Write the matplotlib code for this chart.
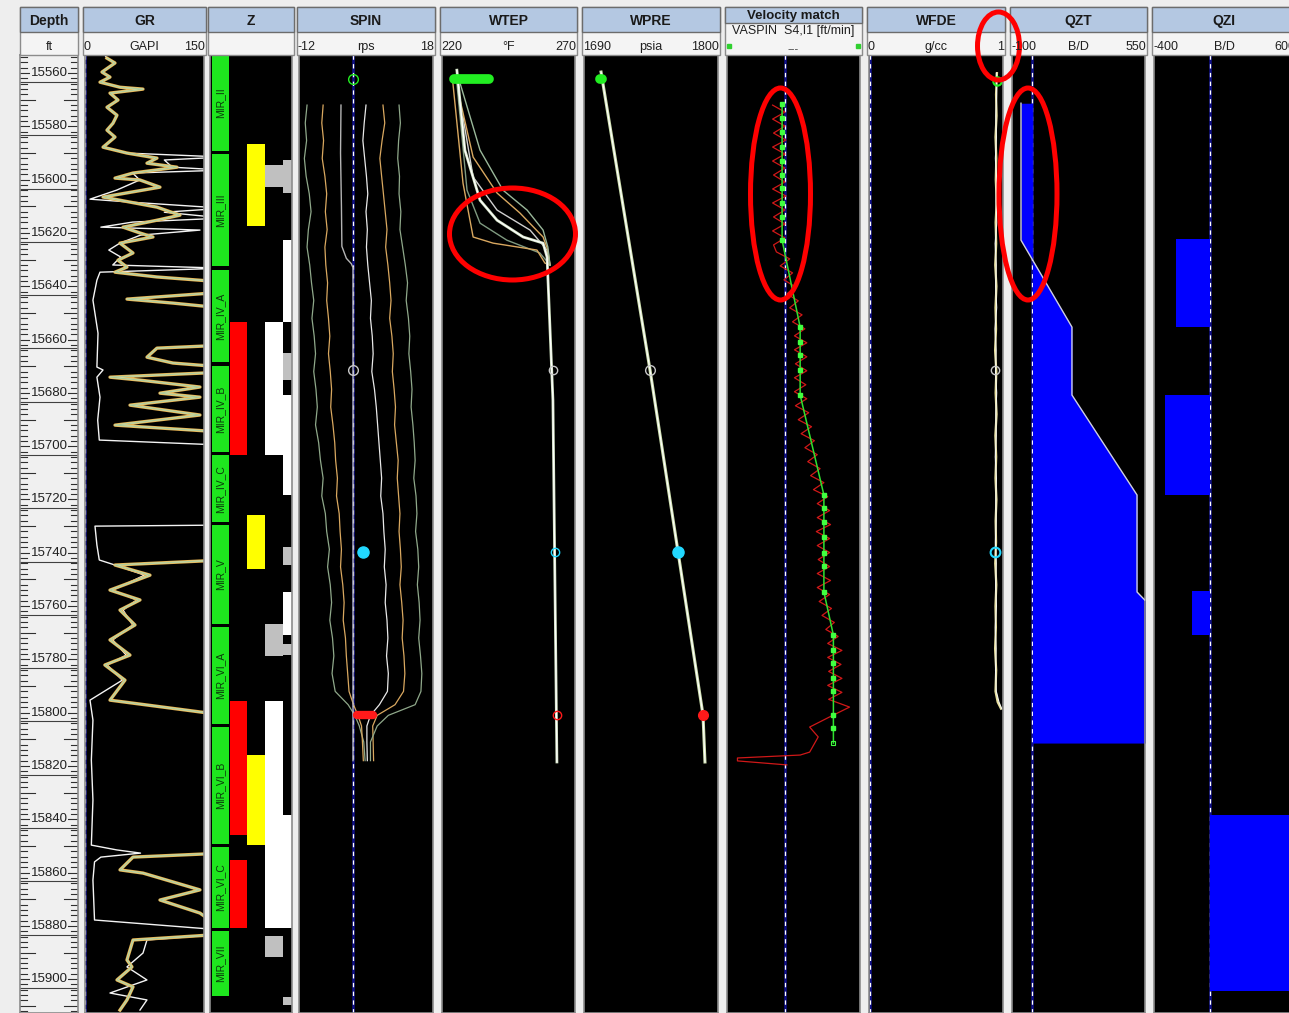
import numpy as np
import matplotlib.pyplot as plt
from matplotlib.patches import Rectangle, Ellipse

plt.rcParams['font.family'] = ['Liberation Sans', 'DejaVu Sans']

W, H = 1289, 1013
TOP, BASE = 15553.2, 15912.7

# ---------------- track layout ----------------
track_title = ['Depth', 'GR', 'Z', 'SPIN', 'WTEP', 'WPRE', 'Velocity match', 'WFDE', 'QZT', 'QZI']
track_unit = ['ft', 'GAPI', '', 'rps', '°F', 'psia', '---', 'g/cc', 'B/D', 'B/D']
scale_lo = ['', '0', '', '-12', '220', '1690', '', '0', '-100', '-400']
scale_hi = ['', '150', '', '18', '270', '1800', '', '1', '550', '600']
track_left = [20, 85, 210, 299, 442, 584, 727, 869, 1012, 1154]
track_right = [78, 204, 292, 433, 575, 718, 860, 1003, 1145, 1294]

depth_labels = np.arange(15560, 15901, 20)

# ---------------- GR ----------------
gr_depth = [15554.4, 15556.2, 15559.6, 15561.5, 15563.4, 15565.3, 15566.0, 15567.5, 15570.1, 15572.8,
            15575.8, 15578.8, 15581.4, 15584.0, 15587.8, 15590.0, 15591.9, 15593.8, 15595.3, 15597.5,
            15599.4, 15600.1, 15602.8, 15606.5, 15608.4, 15610.3, 15613.3, 15615.2, 15617.8, 15620.0,
            15621.5, 15623.8, 15627.5, 15630.2, 15632.8, 15634.7, 15636.5, 15638.4, 15642.2, 15644.8,
            15646.3, 15648.2, 15662.1, 15663.2, 15666.6, 15668.8, 15670.3, 15672.2, 15674.1, 15675.2,
            15677.8, 15680.1, 15681.6, 15684.6, 15688.3, 15692.1, 15694.7, 15742.7, 15744.6, 15748.4,
            15754.0, 15757.7, 15761.5, 15767.1, 15772.7, 15778.4, 15782.1, 15787.8, 15795.3, 15800.9,
            15852.7, 15854.2, 15859.0, 15860.2, 15866.5, 15870.3, 15875.2, 15881.6, 15883.1, 15885.3,
            15892.8, 15895.4, 15900.3, 15902.9, 15907.8, 15911.6]
gr_api = [27.7, 37.8, 21.4, 31.5, 18.9, 44.1, 73.1, 31.5, 41.6, 27.7,
          40.3, 35.3, 27.7, 37.8, 22.7, 52.9, 90.7, 78.1, 115.9, 60.5,
          37.8, 69.3, 94.5, 22.7, 56.7, 90.7, 119.7, 90.7, 47.9, 69.3,
          85.7, 44.1, 60.5, 41.6, 52.9, 37.8, 90.7, 175, 175, 52.9,
          110.9, 175, 175, 90.7, 78.1, 110.9, 175, 175, 31.5, 69.3,
          144.9, 94.5, 144.9, 56.7, 144.9, 37.8, 175, 175, 37.8, 81.9,
          31.5, 69.3, 44.1, 63.0, 31.5, 56.7, 25.0, 50.4, 31.5, 175,
          175, 60.5, 44.1, 73.1, 144.9, 94.5, 144.9, 175, 175, 60.5,
          52.9, 59.2, 40.3, 60.5, 52.9, 44.1]

gr2_depth = [15553.2, 15554.4, 15556.2, 15559.6, 15561.5, 15563.4, 15565.3, 15566.0, 15567.5, 15570.1,
             15572.8, 15575.8, 15578.8, 15581.4, 15584.0, 15587.8, 15590.0, 15591.5, 15592.6, 15595.3,
             15596.4, 15597.5, 15600.1, 15603.9, 15607.3, 15608.4, 15610.7, 15612.2, 15614.4, 15615.9,
             15617.8, 15618.9, 15620.8, 15623.8, 15626.4, 15629.0, 15632.0, 15633.2, 15634.7, 15637.7,
             15645.2, 15657.6, 15670.3, 15671.4, 15674.1, 15681.6, 15690.2, 15697.7, 15699.6, 15729.6,
             15730.0, 15737.1, 15742.7, 15744.6, 15748.4, 15754.0, 15757.7, 15761.5, 15767.1, 15772.7,
             15778.4, 15782.1, 15787.8, 15795.3, 15802.8, 15817.8, 15832.8, 15849.7, 15851.5, 15852.7,
             15854.2, 15856.0, 15862.8, 15877.8, 15881.6, 15883.1, 15885.3, 15890.2, 15895.4, 15900.3,
             15905.2, 15907.8, 15911.6]
gr2_api = [25, 27.7, 37.8, 21.4, 31.5, 18.9, 44.1, 73.1, 31.5, 41.6,
           27.7, 40.3, 35.3, 27.7, 37.8, 22.7, 52.9, 175, 100, 110,
           175, 60, 69, 40, 6.3, 56.7, 175, 100, 175, 60,
           20, 145, 70, 44, 30, 45, 35, 175, 18.9, 15,
           10, 16.4, 15, 22.7, 15, 18.9, 16, 18, 175, 175,
           12.6, 15, 18, 37.8, 75, 35, 65, 48, 60, 35,
           52, 28, 47, 6.3, 10, 8, 10, 8, 40, 70,
           20, 12, 10, 12, 175, 175, 78.1, 73.1, 52.9, 78.1,
           31.5, 78.1, 69.3]

# ---------------- zonation / flags ----------------
zone_name = ['MIR_II', 'MIR_III', 'MIR_IV_A', 'MIR_IV_B', 'MIR_IV_C',
             'MIR_V', 'MIR_VI_A', 'MIR_VI_B', 'MIR_VI_C', 'MIR_VII']
zone_top = [15553.2, 15590.4, 15633.9, 15669.9, 15703.3, 15729.6, 15767.9, 15805.4, 15850.4, 15881.9]
zone_base = [15589.3, 15632.4, 15668.4, 15702.2, 15728.5, 15766.7, 15804.3, 15849.3, 15880.8, 15906.3]

red_top = [15653.4, 15795.6, 15855.3]
red_base = [15703.3, 15845.9, 15880.8]
yellow_top = [15586.6, 15725.8, 15815.9]
yellow_base = [15617.4, 15746.1, 15849.7]
white_top = [15653.4, 15795.6]
white_base = [15703.3, 15880.8]
gray_top = [15594.5, 15766.7, 15883.8]
gray_base = [15602.8, 15778.7, 15891.7]
edge_white_top = [15622.7, 15680.8, 15754.7, 15838.4]
edge_white_base = [15653.4, 15718.3, 15770.9, 15880.8]
edge_gray_top = [15592.6, 15665.1, 15737.8, 15774.2, 15906.7]
edge_gray_base = [15605.0, 15675.2, 15744.6, 15778.4, 15909.7]

# ---------------- stations ----------------
station_depth = [15562.3, 15671.4, 15739.7, 15800.9]
station_color = ['#22ee22', '#c8c8c8', '#22d8ff', '#ff1a1a']

# ---------------- SPIN passes ----------------
spin_depth = [15572, 15578.7, 15585.3, 15592, 15598.7, 15605.3, 15612, 15618.7, 15625.3, 15632,
              15638.7, 15645.3, 15652, 15658.7, 15665.3, 15672, 15678.7, 15685.3, 15692, 15698.7,
              15705.3, 15712, 15718.7, 15725.3, 15732, 15738.7, 15745.3, 15752, 15758.7, 15765.3,
              15772, 15778.7, 15785.3, 15792]
spin_a = [-10.2, -10.6, -10.3, -10.8, -10.4, -9.7, -9.3, -9.9, -10.2, -9.6,
          -9.2, -8.7, -9.1, -8.6, -8.3, -8.7, -8.2, -7.9, -8.3, -7.6,
          -7.2, -6.6, -6.9, -6.1, -5.8, -5.2, -5.6, -5.0, -4.7, -5.1,
          -4.5, -4.2, -4.6, -3.9]
spin_b = [-6.6, -6.9, -6.5, -6.8, -6.2, -5.8, -6.1, -5.7, -6.2, -6.0,
          -5.6, -5.8, -5.4, -5.1, -5.4, -5.0, -4.7, -4.9, -4.4, -4.0,
          -3.8, -3.4, -3.6, -3.0, -2.8, -2.5, -2.7, -2.2, -1.9, -2.1,
          -1.6, -1.4, -1.1, -0.8]
spin_d = [3.0, 2.6, 2.3, 2.7, 3.1, 3.4, 3.0, 3.3, 3.1, 3.4,
          3.8, 4.2, 4.0, 4.4, 4.6, 4.3, 4.9, 5.3, 5.6, 5.9,
          6.2, 6.5, 6.3, 6.8, 7.0, 7.3, 7.1, 7.5, 7.3, 7.7,
          7.9, 7.6, 8.0, 7.8]
spin_e = [6.8, 7.2, 6.6, 6.1, 6.5, 6.9, 7.3, 7.7, 7.4, 7.9,
          8.3, 8.6, 8.3, 8.8, 9.1, 8.9, 9.3, 9.6, 9.4, 9.8,
          10.2, 10.0, 10.3, 10.6, 10.4, 10.7, 10.9, 10.6, 11.0, 11.3,
          11.1, 11.5, 11.7, 11.4]
spin_f = [10.4, 10.7, 10.3, 10.1, 10.5, 10.4, 10.8, 10.6, 11.2, 11.8,
          12.3, 12.0, 12.5, 12.8, 12.6, 13.0, 13.3, 13.1, 13.5, 13.8,
          14.0, 13.7, 14.2, 14.4, 14.1, 14.6, 14.8, 14.5, 14.9, 15.1,
          14.8, 15.2, 15.5, 15.3]
tail_depth = [15797, 15801, 15805, 15811, 15818]
tail_a = [-1.0, 0.5, 1.5, 2.5, 2.8]
tail_b = [0.2, 1.2, 2.0, 2.2, 2.4]
tail_d = [6.0, 4.0, 3.2, 3.2, 3.3]
tail_e = [9.5, 5.5, 4.5, 4.6, 4.7]
tail_f = [14.0, 8.0, 5.5, 4.0, 4.0]
spin_c_depth = [15572, 15590, 15610, 15625, 15629.5, 15631.5, 15633.0, 15818.0]
spin_c = [-2.6, -2.7, -2.5, -2.4, -1.4, -0.3, 0.1, 0.1]

# ---------------- WTEP passes ----------------
wtep_main_depth = [15558.9, 15588.9, 15607.7, 15615.2, 15621.5, 15623.8, 15629.0, 15682.7, 15818.5]
wtep_main = [225.6, 228.6, 234.3, 240.7, 250.5, 258.0, 259.5, 261.7, 263.2]
wtep_o1_depth = [15563.8, 15601.3, 15621.5, 15623.8, 15626.4, 15631.3]
wtep_o1 = [224.1, 227.9, 231.7, 239.2, 255.7, 258.7]
wtep_g1_depth = [15563.8, 15603.9, 15616.3, 15622.7, 15627.5]
wtep_g1 = [225.6, 229.4, 234.3, 244.4, 256.8]
wtep_w2_depth = [15576.5, 15599.0, 15611.4, 15618.9, 15626.4]
wtep_w2 = [227.9, 231.7, 240.7, 253.1, 259.5]
wtep_o2_depth = [15570.1, 15591.5, 15605.0, 15612.5, 15621.5, 15626.4]
wtep_o2 = [226.8, 231.7, 240.7, 249.3, 258.0, 259.8]
wtep_g2_depth = [15563.8, 15588.9, 15603.9, 15611.4, 15618.9, 15625.3]
wtep_g2 = [226.8, 234.3, 242.9, 252.0, 258.0, 259.8]
wtep_station = [261.7, 262.5, 263.2]

# ---------------- WPRE ----------------
wpre_depth = [15559.6, 15671.4, 15739.7, 15800.9, 15818.5]
wpre_psia = [1704.0, 1744.2, 1767.2, 1787.7, 1789.3]

# ---------------- Velocity match ----------------
vm_fit_depth = [15571.6, 15622.7, 15655.3, 15680.8, 15718.3, 15754.7, 15770.9, 15811.4]
vm_fit = [-2, -2, 17, 17, 42, 42, 52, 52]
vm_dot_depth = [15571.6, 15576.9, 15582.1, 15587.8, 15593.0, 15598.3, 15603.1, 15608.8, 15614.0, 15622.7,
                15655.3, 15660.9, 15665.8, 15671.4, 15680.8,
                15718.3, 15723.2, 15728.5, 15734.1, 15740.1, 15745.0, 15754.7,
                15770.9, 15776.5, 15781.4, 15787.0, 15791.9, 15800.9, 15805.8, 15811.4]
vm_dot = [-2] * 10 + [17] * 5 + [42] * 7 + [52] * 8
vm_spin = [-12, 1, -12, 1, -11, 2, -12, 1, -12, 1, -11, 1, -12, 2, -12, 1, -11, 1, -12, 1, -11,
           -8, 6, -4, 9, 0, 12, 3, 15, 6, 19, 9, 22,
           11, 24, 11, 24, 12, 24, 11, 23, 11, 24,
           12, 26, 15, 29, 18, 32, 22, 35, 25, 38, 28, 42, 31, 46,
           35, 48, 35, 49, 34, 48, 35, 48, 36, 48, 35, 49, 35, 48,
           37, 50, 40, 53, 44, 57,
           46, 61, 46, 60, 47, 61, 46, 61, 47]
vm_tail_depth = [15795.0, 15797.9, 15801.6, 15805.4, 15809.1, 15814.8, 15815.9, 15817.0, 15818.1, 15819.6]
vm_tail = [47, 69, 48, 27, 36, 27, 17, -49, -49, 3]

# ---------------- WFDE ----------------
wfde_depth = [15560.0, 15568, 15576, 15584, 15592, 15600, 15608, 15616, 15624, 15632,
              15640, 15648, 15656, 15664, 15672, 15680, 15688, 15696, 15704, 15712,
              15720, 15728, 15736, 15744, 15752, 15760, 15768, 15776, 15784, 15792,
              15796, 15798.5]
wfde_a = [0.955, 0.948, 0.952, 0.944, 0.950, 0.946, 0.953, 0.945, 0.949, 0.942,
          0.951, 0.944, 0.948, 0.941, 0.950, 0.945, 0.952, 0.943, 0.949, 0.944,
          0.951, 0.945, 0.948, 0.942, 0.950, 0.944, 0.947, 0.941, 0.949, 0.944,
          0.960, 0.985]
wfde_b = [0.950, 0.953, 0.946, 0.951, 0.943, 0.952, 0.947, 0.954, 0.941, 0.950,
          0.945, 0.953, 0.940, 0.949, 0.944, 0.953, 0.946, 0.950, 0.942, 0.951,
          0.946, 0.949, 0.943, 0.950, 0.945, 0.951, 0.942, 0.949, 0.944, 0.950,
          0.970, 0.990]
wfde_station = [0.955, 0.94, 0.94]

# ---------------- QZT / QZI ----------------
qzt_depth = [15571.3, 15622.7, 15655.3, 15680.8, 15718.3, 15754.7, 15761.0, 15811.4]
qzt_rate = [-56, -56, 193, 193, 511, 511, 590, 590]
qzi_top = [15622.3, 15680.8, 15754.4, 15838.4]
qzi_base = [15655.3, 15718.3, 15770.9, 15904.4]
qzi_rate = [-243, -321, -129, 640]

# ---------------- figure ----------------
fig = plt.figure(figsize=(W / 100, H / 100), dpi=100, facecolor='#eeeeee')


def px_axes(x0, x1, y0, y1, **kw):
    return fig.add_axes([x0 / W, 1 - y1 / H, (x1 - x0) / W, (y1 - y0) / H], **kw)


def log_track(i, lo, hi, face='black'):
    ax = px_axes(track_left[i], track_right[i], 55, H)
    ax.set_facecolor(face)
    ax.set_xlim(lo, hi)
    ax.set_ylim(BASE, TOP)
    ax.set_xticks([])
    ax.set_yticks([])
    for s in ax.spines.values():
        s.set_color('#8c8c8c')
        s.set_linewidth(1.2)
    return ax


def zero_line(ax, x=0.0):
    ax.axvline(x, color='#10108a', lw=1.8, zorder=1)
    ax.axvline(x, color='white', lw=0.9, ls=(0, (3.5, 3.5)), zorder=1.1)


# depth track
axd = log_track(0, 0, 1, face='#f0f0f0')
for d in np.arange(15554, 15913, 2):
    ln = 0.25 if d % 10 == 0 else 0.12
    axd.plot([0, ln], [d, d], color='#303030', lw=0.8)
    axd.plot([1 - ln, 1], [d, d], color='#303030', lw=0.8)
for d in depth_labels:
    axd.text(0.5, d, str(d), ha='center', va='center', fontsize=9.5, color='#202020',
             bbox=dict(fc='#f0f0f0', ec='none', pad=0.3))
    axd.plot([0, 1], [d + 3.3, d + 3.3], color='#404040', lw=0.8)

# GR
axg = log_track(1, 0, 150)
zero_line(axg, 0.6)
axg.plot(gr2_api, gr2_depth, color='#f4f4f4', lw=1.0)
axg.plot(gr_api, gr_depth, color='#e6b454', lw=2.4)
axg.plot(gr_api, gr_depth, color='#d8e0a8', lw=1.2)
axg.plot(gr_api, gr_depth, color='#a8c898', lw=0.6)

# Z track
axz = log_track(2, -0.1, 4.5)
for t, b in zip(zone_top, zone_base):
    axz.bar(0.47, b - t, bottom=t, width=0.94, color='#1ee61e')
for name, t, b in zip(zone_name, zone_top, zone_base):
    axz.text(0.5, (t + b) / 2, name, rotation=90, ha='center', va='center',
             fontsize=7.5, color='#0a3a0a')
for t, b in zip(red_top, red_base):
    axz.bar(1.5, b - t, bottom=t, width=1.0, color='#ff0000')
for t, b in zip(yellow_top, yellow_base):
    axz.bar(2.5, b - t, bottom=t, width=1.0, color='#ffff00')
for t, b in zip(white_top, white_base):
    axz.bar(3.5, b - t, bottom=t, width=1.0, color='white')
for t, b in zip(gray_top, gray_base):
    axz.bar(3.5, b - t, bottom=t, width=1.0, color='#c0c0c0')
for t, b in zip(edge_white_top, edge_white_base):
    axz.bar(4.25, b - t, bottom=t, width=0.5, color='white')
for t, b in zip(edge_gray_top, edge_gray_base):
    axz.bar(4.25, b - t, bottom=t, width=0.5, color='#c0c0c0')

# SPIN
axs = log_track(3, -12, 18)
zero_line(axs, 0.1)
spin_cols = ['#8fa88a', '#d9a860', '#e8e8e8', '#d9a860', '#8fa88a']
for vals, tail, col in zip([spin_a, spin_b, spin_d, spin_e, spin_f],
                           [tail_a, tail_b, tail_d, tail_e, tail_f], spin_cols):
    axs.plot(vals + tail, spin_depth + tail_depth, color=col, lw=0.9)
axs.plot(spin_c, spin_c_depth, color='#b4b4b4', lw=1.0)
axs.plot(0.1, station_depth[0], 'o', ms=7, mfc='none', mec=station_color[0], mew=1)
axs.plot(0.1, station_depth[1], 'o', ms=7, mfc='none', mec=station_color[1], mew=1)
axs.plot(2.3, station_depth[2], 'o', ms=8, color=station_color[2])
axs.plot([0.9, 4.6], [station_depth[3]] * 2, color=station_color[3], lw=6, solid_capstyle='round')

# WTEP
axt = log_track(4, 220, 270)
for vals, dep, col in [(wtep_g1, wtep_g1_depth, '#7f9a80'), (wtep_o1, wtep_o1_depth, '#d9a860'),
                       (wtep_w2, wtep_w2_depth, '#d0d0d0'), (wtep_o2, wtep_o2_depth, '#d9a860'),
                       (wtep_g2, wtep_g2_depth, '#9ab89a')]:
    axt.plot(vals + [260.6], dep + [15632.0], color=col, lw=1.0)
axt.plot(wtep_main, wtep_main_depth, color='#cfe0c0', lw=2.0)
axt.plot(wtep_main, wtep_main_depth, color='white', lw=0.9)
axt.plot([224.5, 237.5], [station_depth[0]] * 2, color=station_color[0], lw=7, solid_capstyle='round')
for v, d, c in zip(wtep_station, station_depth[1:], station_color[1:]):
    axt.plot(v, d, 'o', ms=6, mfc='none', mec=c, mew=1)

# WPRE
axp = log_track(5, 1690, 1800)
axp.plot(wpre_psia, wpre_depth, color='#cfe0b0', lw=2.2)
axp.plot(wpre_psia, wpre_depth, color='white', lw=0.8)
axp.plot([1703.4, 1705.0], [station_depth[0]] * 2, color=station_color[0], lw=7, solid_capstyle='round')
axp.plot(wpre_psia[1], station_depth[1], 'o', ms=7, mfc='none', mec=station_color[1], mew=1)
axp.plot(wpre_psia[2], station_depth[2], 'o', ms=8, color=station_color[2])
axp.plot(wpre_psia[3], station_depth[3], 'o', ms=7, color=station_color[3])

# Velocity match
axv = log_track(6, -60, 80)
zero_line(axv, 1.0)
red_depth = np.linspace(15572, 15795, len(vm_spin))
axv.plot(list(vm_spin) + vm_tail, list(red_depth) + vm_tail_depth, color='#d01818', lw=0.9)
axv.plot(vm_fit, vm_fit_depth, color='#30e030', lw=1.1)
axv.plot(vm_dot[:-1], vm_dot_depth[:-1], 's', ms=3.2, color='#40ff40')
axv.plot(vm_dot[-1], vm_dot_depth[-1], 's', ms=3.5, mfc='none', mec='#40ff40', mew=0.8)

# WFDE
axf = log_track(7, 0, 1)
zero_line(axf, 0.004)
axf.plot(wfde_a, wfde_depth, color='#e8e0a0', lw=1.6)
axf.plot(wfde_b, wfde_depth, color='#f8f8f0', lw=0.8)
axf.plot(0.955, station_depth[0] + 0.5, 'o', ms=6, mfc='none', mec=station_color[0], mew=1.5)
axf.plot(wfde_station[1], station_depth[1], 'o', ms=6, mfc='none', mec=station_color[1], mew=1)
axf.plot(wfde_station[2], station_depth[2], 'o', ms=7, mfc='none', mec=station_color[2], mew=1.5)

# QZT
axq = log_track(8, -100, 550)
zero_line(axq, 0)
axq.fill_betweenx(qzt_depth, 0, qzt_rate, color='#0000ff', lw=0, zorder=2)
axq.plot(qzt_rate, qzt_depth, color='#d0d0e0', lw=1.0, zorder=3)

# QZI
axi = log_track(9, -400, 600)
zero_line(axi, 0)
for t, b, r in zip(qzi_top, qzi_base, qzi_rate):
    axi.barh((t + b) / 2, r, height=b - t, left=0, color='#0000ff', zorder=2)

# ---------------- headers and annotations ----------------
ov = fig.add_axes([0, 0, 1, 1], zorder=10)
ov.set_xlim(0, W)
ov.set_ylim(H, 0)
ov.axis('off')
ov.patch.set_alpha(0)

for i, name in enumerate(track_title):
    x0, x1 = track_left[i] - 2, track_right[i] + 2
    if i == 0:
        x0, x1 = track_left[i], track_right[i]
    bar_h = 16 if name == 'Velocity match' else 25
    ov.add_patch(Rectangle((x0, 7), x1 - x0, 48, fc='#f4f4f4', ec='#8c8c8c', lw=1))
    ov.add_patch(Rectangle((x0, 7), x1 - x0, bar_h, fc='#b4c8e2', ec='#6c6c6c', lw=1))
    ov.text((x0 + x1) / 2, 7 + bar_h / 2 + 1, name, ha='center', va='center',
            fontsize=10 if bar_h == 25 else 9.5, fontweight='bold', color='#1a1a1a')
    if name == 'Velocity match':
        ov.text((x0 + x1) / 2, 31, 'VASPIN  S4,I1 [ft/min]', ha='center', va='center',
                fontsize=9, color='#202020')
        ov.text((x0 + x1) / 2, 49, track_unit[i], ha='center', va='center', fontsize=8, color='#404040')
        ov.plot([x0 + 4, x1 - 4], [46, 46], 's', ms=2.5, color='#30d030')
        continue
    ov.text((x0 + x1) / 2, 47, track_unit[i], ha='center', va='center', fontsize=9, color='#202020')
    ov.text(x0 + 1, 47, scale_lo[i], ha='left', va='center', fontsize=9, color='#202020')
    ov.text(x1 - 1, 47, scale_hi[i], ha='right', va='center', fontsize=9, color='#202020')

for cx, cy, w, h in [(512.5, 234, 126, 92), (780.5, 194, 60, 212),
                     (998.5, 46, 42, 68), (1028, 194, 58, 212)]:
    ov.add_patch(Ellipse((cx, cy), w, h, fill=False, ec='#ff0000', lw=3.6))

fig.savefig('out.png', dpi=100, facecolor=fig.get_facecolor())
